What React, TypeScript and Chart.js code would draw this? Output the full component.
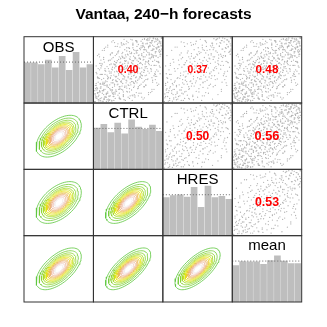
import React, { useEffect, useRef } from "react";
import { Chart, registerables } from "chart.js";

Chart.register(...registerables);

const TITLE = "Vantaa, 240−h forecasts";
const VARIABLES = ["OBS", "CTRL", "HRES", "mean"];

// histogram bar heights relative to the uniform (dotted) level
const HIST_OBS = [0.98, 0.98, 0.94, 1.05, 0.86, 1.14, 0.8, 1.24, 0.86, 0.94];
const HIST_CTRL = [1.01, 1.1, 0.9, 1.13, 0.87, 1.21, 1.03, 0.98, 1.08, 0.93];
const HIST_HRES = [0.93, 0.98, 1.0, 0.94, 1.18, 0.69, 1.21, 0.93, 0.96, 0.89];
const HIST_MEAN = [0.89, 0.99, 0.98, 0.98, 0.92, 1.01, 1.13, 1.0, 0.94, 0.94];
const HIST_MAX = 1.62;

// variable pairs (row variable, column variable) of the upper triangle
const PAIR_ROW = [0, 0, 0, 1, 1, 2];
const PAIR_COL = [1, 2, 3, 2, 3, 3];
const CORR_VALUES = [0.4, 0.37, 0.48, 0.5, 0.56, 0.53];
// shape (correlation) of the density contours in the mirrored lower panels
const CONTOUR_RHO = [0.52, 0.5, 0.6, 0.62, 0.68, 0.68];
const CONTOUR_LEVELS = [0.08, 0.15, 0.23, 0.31, 0.38, 0.46, 0.54, 0.62, 0.69, 0.77, 0.85, 0.92];
const CONTOUR_COLORS = [
  "#5CC63C", "#72CC36", "#8AD330", "#A6DA26", "#C6E01A", "#E4E40C",
  "#E8CB30", "#EAB952", "#ECB378", "#EEBBA0", "#F0CFC8", "#F3ECEC",
];

// rank (percent) pairs of the scatter clouds
const SCATTER_U = [
  2, 5, 9, 11, 14, 17, 19, 22, 25, 28, 31, 33, 36, 39, 42, 45, 47, 50, 53, 56,
  58, 61, 64, 66, 69, 72, 74, 77, 80, 83, 85, 88, 91, 93, 96, 98, 4, 7, 10, 13,
  16, 18, 21, 24, 26, 29, 32, 35, 37, 40, 43, 46, 48, 51, 54, 57, 59, 62, 65, 67,
  70, 73, 75, 78, 81, 84, 86, 89, 92, 95, 97, 99, 1, 3, 6, 8, 12, 15, 20, 23,
  27, 30, 34, 38, 41, 44, 49, 52, 55, 60, 63, 68, 71, 76, 79, 82, 87, 90, 94, 99,
  6, 10, 14, 19, 23, 28, 31, 36, 41, 45, 50, 55, 60, 64, 69, 73, 78, 82, 87, 92,
  96, 3, 9, 16, 24, 32, 40, 47, 53, 58, 63, 70, 75, 81, 86, 91, 95, 12, 20, 26,
  35, 44, 57, 67, 76, 84, 89, 98, 5, 17, 38, 62, 79, 93, 30, 85,
];
const SCATTER_V = [
  7, 21, 3, 35, 12, 48, 26, 9, 41, 30, 58, 17, 44, 62, 29, 51, 70, 38, 66, 46,
  81, 55, 34, 73, 60, 88, 49, 79, 64, 92, 71, 57, 84, 96, 77, 90, 44, 15, 60, 2,
  31, 8, 52, 19, 67, 13, 39, 76, 24, 55, 11, 63, 33, 84, 27, 59, 42, 94, 22, 68,
  37, 81, 53, 97, 45, 74, 31, 93, 63, 85, 54, 99, 1, 29, 9, 50, 18, 5, 37, 27,
  14, 47, 32, 21, 71, 40, 57, 16, 77, 50, 65, 45, 91, 62, 36, 86, 69, 78, 48, 87,
  37, 24, 66, 4, 58, 35, 6, 53, 88, 25, 73, 36, 80, 58, 28, 70, 52, 99, 82, 40,
  94, 56, 43, 20, 73, 61, 33, 90, 48, 30, 86, 75, 41, 68, 95, 72, 61, 80, 14, 3,
  90, 68, 10, 39, 26, 57, 44, 74, 72, 85, 5, 15, 98, 26, 92, 20,
];

const HISTS = [HIST_OBS, HIST_CTRL, HIST_HRES, HIST_MEAN];
const N = VARIABLES.length;
const FONT = '"Liberation Sans", Arial, Helvetica, sans-serif';
const panelBottom = (row: number) => N - 1 - row;

function buildDatasets(): any[] {
  const ds: any[] = [];
  // dotted uniform level in each histogram
  HISTS.forEach((_, k) => {
    const yv = panelBottom(k) + 1 / HIST_MAX;
    ds.push({
      type: "line",
      data: [{ x: k, y: yv }, { x: k + 1, y: yv }],
      borderColor: "#6a6a6a",
      borderWidth: 1,
      borderDash: [1, 2],
      pointRadius: 0,
      order: 0,
    });
  });
  // histogram bars (floating bars inside each diagonal panel)
  ds.push({
    type: "bar",
    data: HISTS.flatMap((h, k) =>
      h.map((v, b) => ({
        x: k + (b + 0.5) / h.length,
        y: [panelBottom(k), panelBottom(k) + v / HIST_MAX],
      }))
    ),
    backgroundColor: "#bebebe",
    borderWidth: 0,
    barThickness: 6,
    order: 1,
  });
  // density contours in the lower panels
  const AX = 0.325;
  const AY = 0.315;
  const dOuter = Math.sqrt(-2 * Math.log(CONTOUR_LEVELS[0]));
  PAIR_ROW.forEach((i, p) => {
    const j = PAIR_COL[p];
    const rho = CONTOUR_RHO[p];
    const cx = i + 0.5;
    const cy = panelBottom(j) + 0.5;
    const s = Math.sqrt(1 - rho * rho);
    CONTOUR_LEVELS.forEach((lv, l) => {
      const d = Math.sqrt(-2 * Math.log(lv)) / dOuter;
      const pts: { x: number; y: number }[] = [];
      for (let k = 0; k <= 72; k++) {
        const t = (2 * Math.PI * k) / 72;
        pts.push({
          x: cx + AX * d * Math.cos(t),
          y: cy + AY * d * (rho * Math.cos(t) + s * Math.sin(t)),
        });
      }
      ds.push({
        type: "line",
        data: pts,
        borderColor: CONTOUR_COLORS[l],
        borderWidth: 0.8,
        pointRadius: 0,
        tension: 0,
        order: 2,
      });
    });
  });
  // scatter clouds in the upper panels (each cloud used with its mirrored views)
  PAIR_ROW.forEach((i, p) => {
    const j = PAIR_COL[p];
    const pts: { x: number; y: number }[] = [];
    SCATTER_U.forEach((u0, k) => {
      const v0 = SCATTER_V[k];
      const views = [
        [u0, v0],
        [v0, u0],
        [100 - u0, 100 - v0],
        [100 - v0, 100 - u0],
      ];
      views.forEach(([u, v], w) => {
        if (w > 1 && p % 2 === 1) return;
        pts.push({ x: j + 0.01 + (0.98 * u) / 100, y: panelBottom(i) + 0.01 + (0.98 * v) / 100 });
      });
    });
    ds.push({
      type: "scatter",
      data: pts,
      backgroundColor: "#b4b4b4",
      borderWidth: 0,
      pointRadius: 0.65,
      pointHoverRadius: 0,
      order: 3,
    });
  });
  return ds;
}

const pairsPlugin = {
  id: "pairsDecor",
  afterDatasetsDraw(chart: any) {
    const { ctx } = chart;
    const xs = chart.scales.x;
    const ys = chart.scales.y;
    ctx.save();
    // correlation values
    ctx.textAlign = "center";
    ctx.textBaseline = "middle";
    ctx.fillStyle = "#ff0000";
    PAIR_ROW.forEach((i, p) => {
      const j = PAIR_COL[p];
      const r = CORR_VALUES[p];
      ctx.font = `bold ${5.5 + 13 * r}px ${FONT}`;
      ctx.fillText(r.toFixed(2), xs.getPixelForValue(j + 0.5), ys.getPixelForValue(panelBottom(i) + 0.5));
    });
    // variable names
    ctx.textBaseline = "alphabetic";
    ctx.fillStyle = "#000000";
    ctx.font = `15px ${FONT}`;
    VARIABLES.forEach((name, k) => {
      const top = ys.getPixelForValue(panelBottom(k) + 1);
      ctx.fillText(name, xs.getPixelForValue(k + 0.5), top + 14.8);
    });
    // panel boxes
    ctx.strokeStyle = "#333333";
    ctx.lineWidth = 1;
    for (let r = 0; r < N; r++) {
      for (let c = 0; c < N; c++) {
        const x0 = xs.getPixelForValue(c);
        const x1 = xs.getPixelForValue(c + 1);
        const y0 = ys.getPixelForValue(panelBottom(r) + 1);
        const y1 = ys.getPixelForValue(panelBottom(r));
        ctx.strokeRect(x0, y0, x1 - x0, y1 - y0);
      }
    }
    // title
    ctx.font = `bold 15.5px ${FONT}`;
    ctx.fillText(TITLE, chart.width / 2, 18.8);
    ctx.restore();
  },
};

export default function App() {
  const ref = useRef<HTMLCanvasElement>(null);
  useEffect(() => {
    const chart = new Chart(ref.current as HTMLCanvasElement, {
      type: "scatter",
      data: { datasets: buildDatasets() },
      options: {
        animation: false,
        responsive: false,
        devicePixelRatio: 1,
        events: [],
        layout: { padding: { left: 24, right: 25.3, top: 36.7, bottom: 25 } },
        scales: {
          x: { type: "linear", min: 0, max: 4, display: false, offset: false },
          y: { type: "linear", min: 0, max: 4, display: false, offset: false },
        },
        plugins: {
          legend: { display: false },
          tooltip: { enabled: false },
          title: { display: false },
        },
      },
      plugins: [pairsPlugin],
    } as any);
    return () => chart.destroy();
  }, []);
  return (
    <canvas
      ref={ref}
      width={327}
      height={327}
      style={{ position: "absolute", left: 0, top: 0 }}
    />
  );
}
